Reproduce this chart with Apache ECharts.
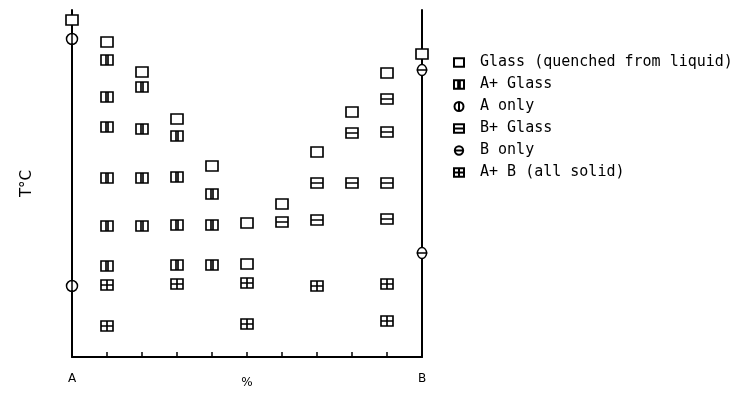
<!DOCTYPE html>
<html>
<head>
<meta charset="utf-8">
<script src="https://cdn.jsdelivr.net/npm/echarts@6/dist/echarts.min.js"></script>
<style>
  html, body { margin: 0; padding: 0; background: #fff; }
  #chart { width: 742px; height: 395px; }
</style>
</head>
<body>
<div id="chart"></div>
<script>
// composition (% B) and temperature for each phase region
var glassX = [0, 10, 20, 30, 40, 50, 50, 60, 70, 80, 90, 100];
var glassT = [337, 315, 285, 238, 191, 134, 93, 153, 205, 245, 284, 303];

var aGlassX = [10, 10, 10, 10, 10, 10, 20, 20, 20, 20, 30, 30, 30, 30, 40, 40, 40];
var aGlassT = [297, 260, 230, 179, 131, 91, 270, 228, 179, 131, 221, 180, 132, 92, 163, 132, 92];

var aOnlyX = [0, 0];
var aOnlyT = [318, 71];

var bGlassX = [60, 70, 70, 80, 80, 90, 90, 90, 90];
var bGlassT = [135, 174, 137, 224, 174, 258, 225, 174, 138];

var bOnlyX = [100, 100];
var bOnlyT = [287, 104];

var abX = [10, 10, 30, 50, 50, 70, 90, 90];
var abT = [72, 31, 73, 74, 33, 71, 73, 36];

var names = ['Glass (quenched from liquid)', 'A+ Glass', 'A only', 'B+ Glass', 'B only', 'A+ B (all solid)'];

var symbols = {
    glass: 'path://M0,0H12V10H0Z',
    aGlass: 'path://M0,0H12V10H0Z M5,0V10 M7,0V10',
    aOnly: 'path://M1,5A5,5 0 1 1 11,5A5,5 0 1 1 1,5Z M6,0V10',
    bGlass: 'path://M0,0H12V10H0Z M0,5H12',
    bOnly: 'path://M1,5A5,5 0 1 1 11,5A5,5 0 1 1 1,5Z M0,5H12',
    ab: 'path://M0,0H12V10H0Z M6,0V10 M0,5H12'
};

function pairs(xs, ts) {
    return xs.map(function (x, i) { return [x, ts[i]]; });
}

function makeSeries(name, sym, xs, ts, size) {
    return {
        name: name,
        type: 'scatter',
        symbol: sym,
        symbolSize: size || [12, 10],
        itemStyle: { color: '#fff', borderColor: '#000', borderWidth: 1.5, opacity: 1 },
        data: pairs(xs, ts),
        z: 5
    };
}

var chart = echarts.init(document.getElementById('chart'), null, { renderer: 'canvas' });
var font = 'DejaVu Sans';

var option = {
    animation: false,
    backgroundColor: '#fff',
    grid: { left: 72, right: 320, top: 10, bottom: 38, containLabel: false, outerBoundsMode: 'none' },
    legend: {
        orient: 'vertical',
        left: 448,
        top: 50,
        itemWidth: 10,
        itemHeight: 9,
        itemGap: 7,
        data: names,
        textStyle: { fontFamily: 'DejaVu Sans Mono', fontSize: 15, lineHeight: 14.6, color: '#000', padding: [0, 0, 0, 11] }
    },
    xAxis: {
        type: 'value',
        min: 0,
        max: 100,
        interval: 10,
        name: '%',
        nameLocation: 'middle',
        nameGap: 20,
        nameMoveOverlap: false,
        nameTextStyle: { fontFamily: font, fontSize: 12, color: '#000' },
        axisLine: { show: true, onZero: false, lineStyle: { color: '#000', width: 2 } },
        axisTick: { show: true, inside: true, length: 5, lineStyle: { color: '#000', width: 1.5 } },
        axisLabel: {
            margin: 16,
            fontFamily: font,
            fontSize: 12,
            color: '#000',
            formatter: function (v) { return v === 0 ? 'A' : v === 100 ? 'B' : ''; }
        },
        splitLine: { show: false }
    },
    yAxis: [{
        type: 'value',
        min: 0,
        max: 347,
        name: 'T°C',
        nameLocation: 'middle',
        nameRotate: 90,
        nameGap: 37,
        nameMoveOverlap: false,
        nameTextStyle: { fontFamily: font, fontSize: 15, color: '#000' },
        axisLine: { show: true, lineStyle: { color: '#000', width: 2 } },
        axisTick: { show: false },
        axisLabel: { show: false },
        splitLine: { show: false }
    }, {
        type: 'value',
        position: 'right',
        min: 0,
        max: 347,
        axisLine: { show: true, lineStyle: { color: '#000', width: 2 } },
        axisTick: { show: false },
        axisLabel: { show: false },
        splitLine: { show: false }
    }],
    series: [
        makeSeries(names[0], symbols.glass, glassX, glassT),
        makeSeries(names[1], symbols.aGlass, aGlassX, aGlassT),
        makeSeries(names[2], symbols.aOnly, aOnlyX, aOnlyT, [11, 11]),
        makeSeries(names[3], symbols.bGlass, bGlassX, bGlassT),
        makeSeries(names[4], symbols.bOnly, bOnlyX, bOnlyT, [11, 11]),
        makeSeries(names[5], symbols.ab, abX, abT)
    ]
};
chart.setOption(option);
</script>
</body>
</html>
